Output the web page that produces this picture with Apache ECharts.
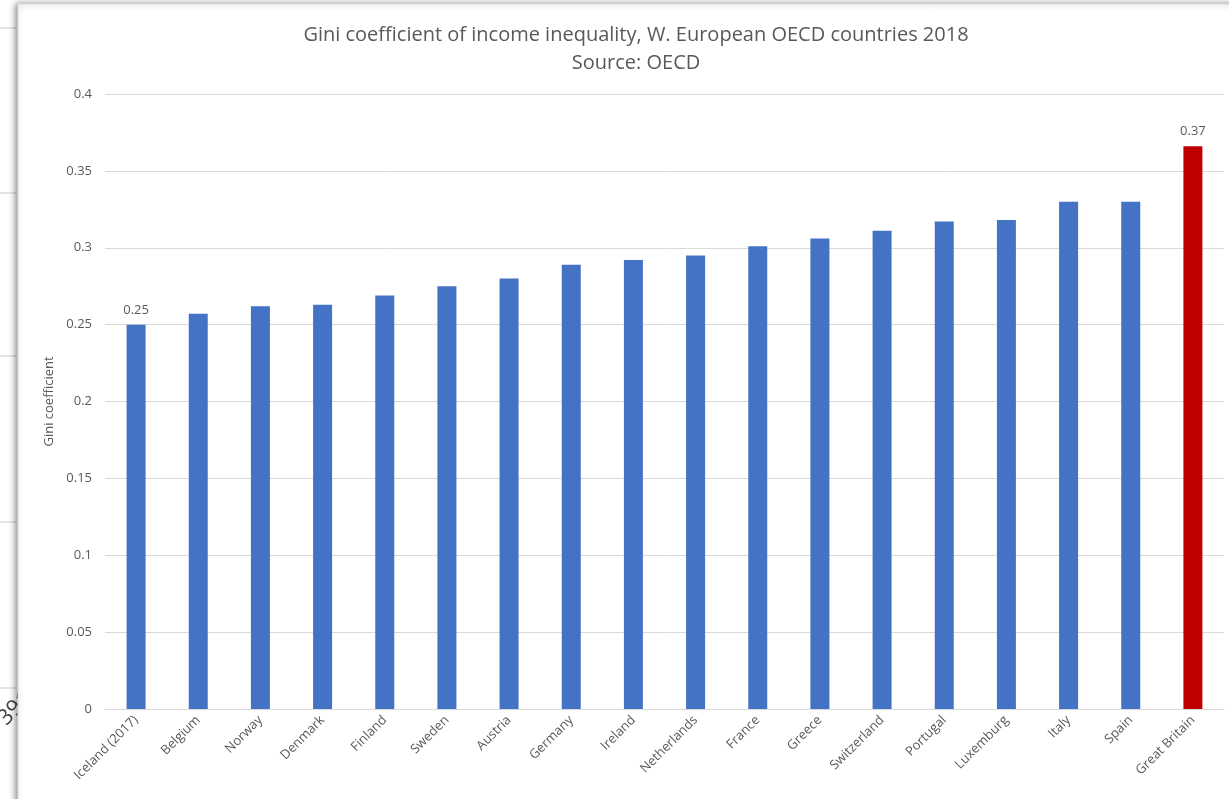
<!DOCTYPE html>
<html>
<head>
<meta charset="utf-8">
<script src="https://cdn.jsdelivr.net/npm/echarts@6/dist/echarts.min.js"></script>
<style>
  html, body { margin: 0; padding: 0; background: #fff; }
  #main { width: 1229px; height: 799px; }
</style>
</head>
<body>
<div id="main"></div>
<script>
// countries, sorted by Gini value
var countries = ['Iceland (2017)', 'Belgium', 'Norway', 'Denmark', 'Finland', 'Sweden', 'Austria',
    'Germany', 'Ireland', 'Netherlands', 'France', 'Greece', 'Switzerland', 'Portugal',
    'Luxemburg', 'Italy', 'Spain', 'Great Britain'];
var gini = [0.250, 0.257, 0.262, 0.263, 0.269, 0.275, 0.280,
    0.289, 0.292, 0.295, 0.301, 0.306, 0.311, 0.317,
    0.318, 0.330, 0.330, 0.366];
var highlighted = ['Great Britain'];
var labelled = ['Iceland (2017)', 'Great Britain'];
var yTicks = { min: 0, max: 0.4, interval: 0.05 };

var textColor = '#595959';
var font = '"Open Sans", "Noto Sans", sans-serif';

var chart = echarts.init(document.getElementById('main'));

var barData = countries.map(function (c, i) {
    var item = { value: gini[i] };
    if (highlighted.indexOf(c) >= 0) {
        item.itemStyle = { color: '#c00000' };
    }
    if (labelled.indexOf(c) >= 0) {
        item.label = { show: true };
    }
    return item;
});

var option = {
    backgroundColor: '#fff',
    textStyle: { fontFamily: font },
    title: {
        text: 'Gini coefficient of income inequality, W. European OECD countries 2018\nSource: OECD',
        left: 631,
        top: 16,
        textAlign: 'center',
        textStyle: {
            fontSize: 20,
            fontWeight: 'normal',
            color: textColor,
            lineHeight: 28,
            fontFamily: font
        }
    },
    graphic: [
        // bits of the window behind the chart
        { type: 'line', z: -10, shape: { x1: 0, y1: 28, x2: 16, y2: 28 }, style: { stroke: '#c8c8c8', lineWidth: 1 } },
        { type: 'line', z: -10, shape: { x1: 0, y1: 193, x2: 16, y2: 193 }, style: { stroke: '#c8c8c8', lineWidth: 1 } },
        { type: 'line', z: -10, shape: { x1: 0, y1: 356, x2: 16, y2: 356 }, style: { stroke: '#c8c8c8', lineWidth: 1 } },
        { type: 'line', z: -10, shape: { x1: 0, y1: 522, x2: 16, y2: 522 }, style: { stroke: '#c8c8c8', lineWidth: 1 } },
        { type: 'line', z: -10, shape: { x1: 0, y1: 688, x2: 16, y2: 688 }, style: { stroke: '#c8c8c8', lineWidth: 1 } },
        {
            type: 'text', z: -10, x: -6, y: 714, rotation: Math.PI / 4,
            style: { text: '391', fontSize: 22, fill: '#444', fontFamily: font }
        },
        // chart panel with its shadow
        {
            type: 'rect', z: -5,
            shape: { x: 18, y: 4, width: 1230, height: 820 },
            style: {
                fill: '#fff', stroke: '#e0e0e0', lineWidth: 1,
                shadowBlur: 6, shadowColor: 'rgba(0,0,0,0.45)', shadowOffsetX: -2
            }
        }
    ],
    grid: {
        left: 105,
        right: 5,
        top: 94,
        bottom: 90
    },
    xAxis: {
        type: 'category',
        data: countries,
        axisTick: { show: false },
        axisLine: { lineStyle: { color: '#d9d9d9', width: 1 } },
        axisLabel: {
            interval: 0,
            rotate: 45,
            margin: 9,
            fontSize: 13,
            color: textColor,
            fontFamily: font
        }
    },
    yAxis: {
        type: 'value',
        min: yTicks.min,
        max: yTicks.max,
        interval: yTicks.interval,
        name: 'Gini coefficient',
        nameLocation: 'middle',
        nameRotate: 90,
        nameGap: 47,
        nameTextStyle: { fontSize: 13, color: textColor, fontFamily: font },
        axisLine: { show: false },
        axisTick: { show: false },
        axisLabel: { margin: 13, fontSize: 13, color: textColor, fontFamily: font },
        splitLine: { lineStyle: { color: '#d9d9d9', width: 1 } }
    },
    series: [
        {
            type: 'bar',
            data: barData,
            barWidth: 19,
            itemStyle: { color: '#4472c4' },
            label: {
                show: false,
                position: 'top',
                distance: 8,
                fontSize: 13,
                color: textColor,
                formatter: function (p) { return p.value.toFixed(2); }
            }
        }
    ]
};

chart.setOption(option);
</script>
</body>
</html>
